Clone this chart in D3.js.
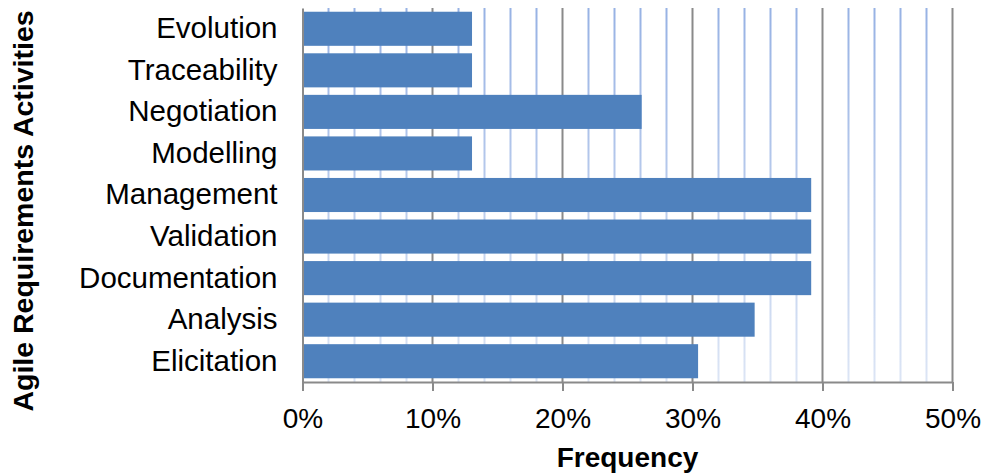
<!DOCTYPE html>
<html>
<head>
<meta charset="utf-8">
<script src="https://cdn.jsdelivr.net/npm/d3@7"></script>
<style>
  html, body { margin: 0; padding: 0; background: #ffffff; }
  svg { display: block; font-family: "Liberation Sans", Arial, sans-serif; }
</style>
</head>
<body>
<svg id="chart" width="985" height="475"></svg>
<script>
// Activities, listed top to bottom
const activities = ["Evolution", "Traceability", "Negotiation", "Modelling", "Management",
                    "Validation", "Documentation", "Analysis", "Elicitation"];
// Share of studies mentioning each activity (%)
const frequency = [13.04, 13.04, 26.09, 13.04, 39.13, 39.13, 39.13, 34.78, 30.43];
const majorTicks = [0, 10, 20, 30, 40, 50];
const minorTicks = [2, 4, 6, 8, 12, 14, 16, 18, 22, 24, 26, 28, 32, 34, 36, 38, 42, 44, 46, 48];

const svg = d3.select("#chart");
const plot = { left: 302.5, right: 952.5, top: 8, bottom: 382 };

const x = d3.scaleLinear().domain([0, 50]).range([plot.left, plot.right]);
const y = d3.scaleBand().domain(activities).range([plot.top, plot.bottom]).paddingInner(0.18).paddingOuter(0.09);

// Minor gridlines fade from a stronger blue at the top to a pale blue at the bottom
const defs = svg.append("defs");
const grad = defs.append("linearGradient")
  .attr("id", "minorGrad").attr("gradientUnits", "userSpaceOnUse")
  .attr("x1", 0).attr("x2", 0).attr("y1", plot.top).attr("y2", plot.bottom);
grad.append("stop").attr("offset", "0%").attr("stop-color", "#97b2e4");
grad.append("stop").attr("offset", "100%").attr("stop-color", "#dce5f5");

svg.append("g").selectAll("line").data(minorTicks).join("line")
  .attr("x1", d => x(d)).attr("x2", d => x(d))
  .attr("y1", plot.top).attr("y2", plot.bottom)
  .attr("stroke", "url(#minorGrad)").attr("stroke-width", 2);

svg.append("g").selectAll("line").data(majorTicks.slice(1)).join("line")
  .attr("x1", d => x(d)).attr("x2", d => x(d))
  .attr("y1", plot.top).attr("y2", plot.bottom)
  .attr("stroke", "#8a8a8a").attr("stroke-width", 2);

// Bars
svg.append("g").selectAll("rect").data(activities).join("rect")
  .attr("x", x(0))
  .attr("y", d => y(d))
  .attr("width", (d, i) => x(frequency[i]) - x(0))
  .attr("height", y.bandwidth())
  .attr("fill", "#4f81bd");

// X axis
const xAxis = d3.axisBottom(x).tickValues(majorTicks).tickFormat(d => d + "%").tickSize(9).tickSizeOuter(0);
const gx = svg.append("g").attr("transform", `translate(0,${plot.bottom})`).call(xAxis);
gx.select(".domain").attr("stroke", "#8a8a8a").attr("stroke-width", 2);
gx.selectAll(".tick line").attr("stroke", "#8a8a8a").attr("stroke-width", 2);
gx.selectAll(".tick text").attr("font-size", 28).attr("fill", "#000").attr("font-family", "Liberation Sans, Arial, sans-serif")
  .attr("y", 0).attr("dy", 0).attr("transform", "translate(0,46)");

// Y axis
const yAxis = d3.axisLeft(y).tickSize(0).tickPadding(25);
const gy = svg.append("g").attr("transform", `translate(${plot.left},0)`).call(yAxis);
gy.select(".domain").attr("stroke", "#8a8a8a").attr("stroke-width", 2);
gy.selectAll(".tick text").attr("font-size", 29.5).attr("fill", "#000").attr("font-family", "Liberation Sans, Arial, sans-serif");

// Axis titles
svg.append("text")
  .attr("x", (plot.left + plot.right) / 2).attr("y", 467)
  .attr("text-anchor", "middle").attr("font-weight", "bold").attr("font-size", 28)
  .text("Frequency");

svg.append("text")
  .attr("transform", "translate(33,211) rotate(-90)")
  .attr("text-anchor", "middle").attr("font-weight", "bold").attr("font-size", 28.5)
  .text("Agile Requirements Activities");
</script>
</body>
</html>
